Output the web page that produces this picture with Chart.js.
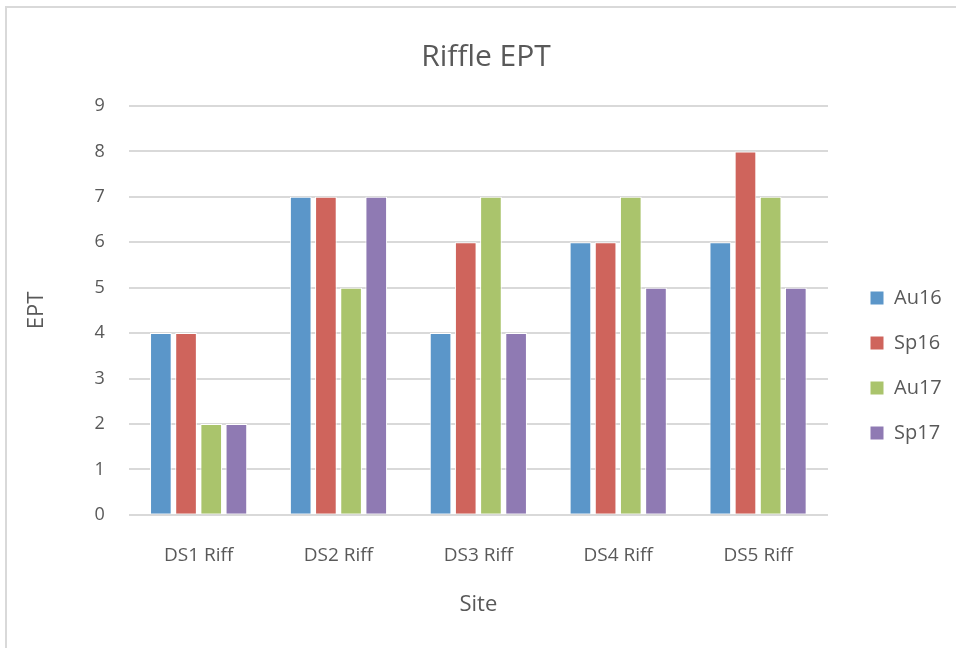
<!DOCTYPE html>
<html>
<head>
<meta charset="utf-8">
<script src="https://cdn.jsdelivr.net/npm/chart.js@4/dist/chart.umd.min.js"></script>
<style>
    html, body { margin: 0; padding: 0; background: #fff; overflow: hidden; }
    #frame {
        position: absolute; left: 5px; top: 6px;
        width: 1000px; height: 700px;
        border: 2px solid #d9d9d9;
    }
    #wrap { position: absolute; left: 0; top: 0; width: 956px; height: 648px; }
</style>
</head>
<body>
<div id="frame"></div>
<div id="wrap"><canvas id="chart-ept" width="956" height="648"></canvas></div>
<script>
var sites = ["DS1 Riff", "DS2 Riff", "DS3 Riff", "DS4 Riff", "DS5 Riff"];
var au16 = [4, 7, 4, 6, 6];
var sp16 = [4, 7, 6, 6, 8];
var au17 = [2, 5, 7, 7, 7];
var sp17 = [2, 7, 4, 5, 5];
var yTicks = [0, 1, 2, 3, 4, 5, 6, 7, 8, 9];

var textColor = '#595959';
var fontFamily = "'Open Sans', 'Liberation Sans', sans-serif";

function bar_set(label, data, color) {
    return {
        label: label,
        data: data,
        backgroundColor: color,
        borderColor: '#ffffff',
        borderWidth: 1,
        categoryPercentage: 0.72,
        barPercentage: 0.86
    };
}

/* Excel puts the legend away from the plot, so move it after layout */
var legendPlace = {
    id: 'legendPlace',
    beforeLayout: function(chart) {
        var lg = chart.legend;
        if (lg && !lg._patched) {
            var fit = lg.fit;
            lg.fit = function() {
                fit.call(this);
                this.width = 120;
            };
            lg._patched = true;
        }
    },
    afterLayout: function(chart) {
        var lg = chart.legend;
        if (!lg) return;
        var h = lg.bottom - lg.top;
        lg.left = 845;
        lg.right = lg.left + 120;
        lg.top = 263;
        lg.bottom = lg.top + h;
    }
};

document.addEventListener('DOMContentLoaded', function() {
    var ctx = document.getElementById('chart-ept');
    var myChart = new Chart(ctx, {
        type: 'bar',
        data: {
            labels: sites,
            datasets: [
                bar_set('Au16', au16, '#5b96c9'),
                bar_set('Sp16', sp16, '#cf645c'),
                bar_set('Au17', au17, '#aac46c'),
                bar_set('Sp17', sp17, '#8f7ab3')
            ]
        },
        plugins: [legendPlace],
        options: {
            responsive: false,
            animation: false,
            layout: {
                padding: { left: 24, top: 39, right: 8, bottom: 30 }
            },
            plugins: {
                title: {
                    display: true,
                    text: 'Riffle EPT',
                    color: textColor,
                    font: { family: fontFamily, size: 30, weight: 'normal' },
                    padding: { top: 0, bottom: 31 }
                },
                legend: {
                    position: 'right',
                    align: 'start',
                    labels: {
                        color: textColor,
                        font: { family: fontFamily, size: 20 },
                        boxWidth: 14,
                        boxHeight: 14,
                        padding: 25
                    }
                },
                tooltip: { enabled: false }
            },
            scales: {
                x: {
                    grid: { display: false, drawTicks: true, tickLength: 25 },
                    border: { display: false },
                    ticks: {
                        color: textColor,
                        font: { family: fontFamily, size: 19 },
                        padding: 4
                    },
                    title: {
                        display: true,
                        text: 'Site',
                        color: textColor,
                        font: { family: fontFamily, size: 22 },
                        padding: { top: 21, bottom: 0 }
                    }
                },
                y: {
                    min: 0,
                    max: 9,
                    afterBuildTicks: function(axis) {
                        axis.ticks = yTicks.map(function(v) { return { value: v }; });
                    },
                    grid: {
                        color: '#d9d9d9',
                        lineWidth: 2,
                        drawTicks: true,
                        tickLength: 22,
                        tickColor: 'rgba(0,0,0,0)'
                    },
                    border: { display: false },
                    ticks: {
                        color: textColor,
                        font: { family: fontFamily, size: 18 },
                        padding: 2
                    },
                    title: {
                        display: true,
                        text: 'EPT',
                        color: textColor,
                        font: { family: fontFamily, size: 22 },
                        padding: { top: 0, bottom: 42 }
                    }
                }
            }
        }
    });
});
</script>
</body>
</html>
